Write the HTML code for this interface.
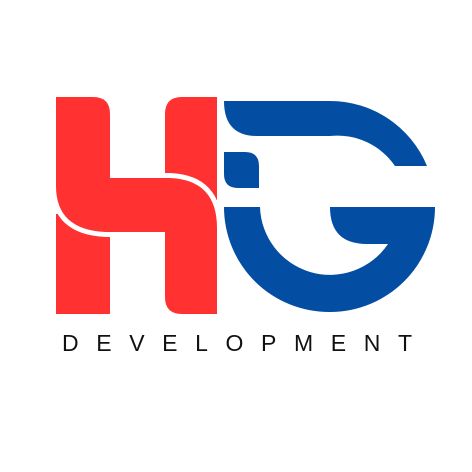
<!DOCTYPE html>
<html><head><meta charset="utf-8"><style>
html,body{margin:0;padding:0;background:#fff;width:472px;height:472px;overflow:hidden}
</style></head><body>
<svg width="472" height="472" viewBox="0 0 472 472" xmlns="http://www.w3.org/2000/svg">
  <rect width="472" height="472" fill="#fff"/>
  <g fill="#ff3131">
    <path d="M56,214 H110 V314 H56 Z"/>
    <path d="M182,97 H217 V205 H165 V114 Q165,97 182,97 Z"/>
    <path stroke="#fff" stroke-width="10" paint-order="stroke" d="M56,97 H93 Q110,97 110,114 V178 H170 Q217,180 217,228 V314 H182 Q165,314 165,297 V232 H106 Q56,230 56,186 Z"/>
  </g>
  <g fill="#034ea2">
    <path d="M224,101 H330 A105,105 0 0 1 427,166 H395 A70,70 0 0 0 330,136 H257 Q224,136 224,101 Z"/>
    <path d="M224,152 H245 Q259,152 259,166 V188 H238 Q224,188 224,174 Z"/>
    <path d="M224,207 H260 A70,70 0 0 0 388,244 H367 Q330,244 330,207 H435 A105,105 0 0 1 330,312 A105,105 0 0 1 224,207 Z"/>
  </g>
  <text x="62" y="351" font-family="Liberation Sans, sans-serif" font-size="23" fill="#111" textLength="350" lengthAdjust="spacing">DEVELOPMENT</text>
</svg>
</body></html>
